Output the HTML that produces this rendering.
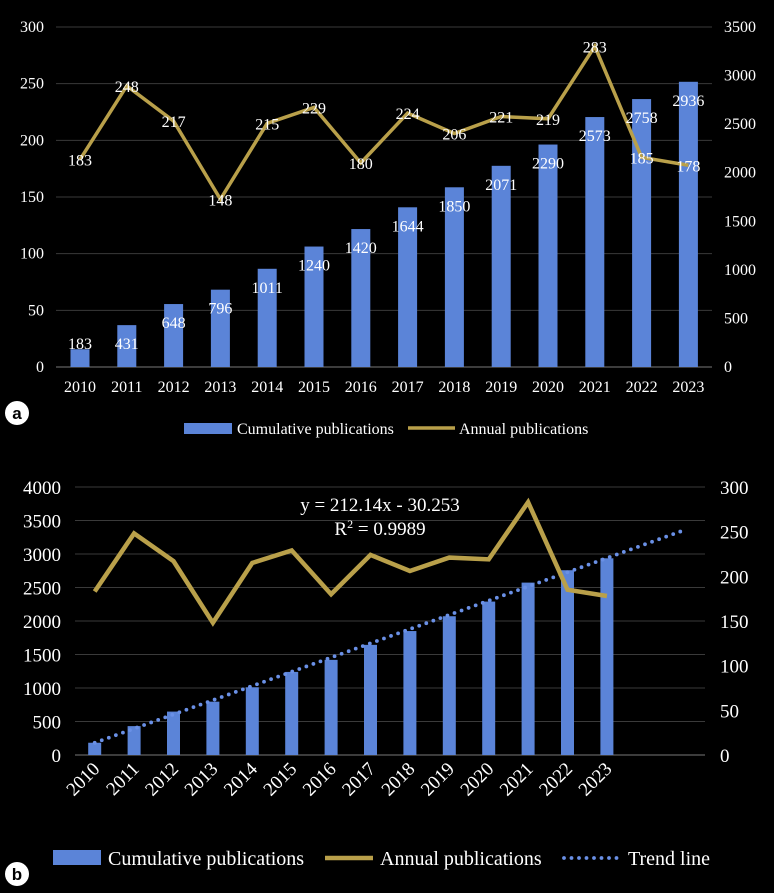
<!DOCTYPE html>
<html><head><meta charset="utf-8"><style>
html,body{margin:0;padding:0;background:#000;}
svg{display:block;font-family:"Liberation Serif",serif;}
</style></head><body>
<svg id="s" width="774" height="893" xmlns="http://www.w3.org/2000/svg"></svg>
<script>
const years=["2010","2011","2012","2013","2014","2015","2016","2017","2018","2019","2020","2021","2022","2023"];
const cumulative=[183,431,648,796,1011,1240,1420,1644,1850,2071,2290,2573,2758,2936];
const annual=[183,248,217,148,215,229,180,224,206,221,219,283,185,178];
const aLeftTicks=[0,50,100,150,200,250,300];
const aRightTicks=[0,500,1000,1500,2000,2500,3000,3500];
const bLeftTicks=[0,500,1000,1500,2000,2500,3000,3500,4000];
const bRightTicks=[0,50,100,150,200,250,300];
const trendSlope=212.14, trendIntercept=-30.253, trendCount=16;

const NS="http://www.w3.org/2000/svg";
const svg=document.getElementById('s');
function el(t,a,p){const e=document.createElementNS(NS,t);for(const k in a)e.setAttribute(k,a[k]);(p||svg).appendChild(e);return e;}
function txt(s,a,p){const e=el('text',a,p);e.textContent=s;return e;}
const BAR="#5b84d8", LINE="#b9a04a", GRID="#3a3a3a";

// ---------- Panel a ----------
const ga=el('g',{});
const aX0=56.6, aStep=46.8, aY0=367, aH=340;
const ax=i=>aX0+aStep*(i+0.5);
const ayL=v=>aY0-v/300*aH, ayR=v=>aY0-v/3500*aH;
const FA=16;
aLeftTicks.forEach(v=>{const g=el('line',{x1:56,x2:712,y1:ayL(v),y2:ayL(v),stroke:v===0?"#777":GRID,'stroke-width':1},ga);
 const t=txt(String(v),{x:44,y:ayL(v)+5,'text-anchor':'end',fill:'#fff','font-size':FA},ga);});
aRightTicks.forEach(v=>{const t=txt(String(v),{x:724,y:ayR(v)+5,fill:'#fff','font-size':FA},ga);});
cumulative.forEach((v,i)=>{const r=el('rect',{x:ax(i)-9.5,y:ayR(v),width:19,height:aY0-ayR(v),fill:BAR},ga);});
let pa=annual.map((v,i)=>ax(i)+","+ayL(v)).join(" ");
const la=el('polyline',{points:pa,fill:'none',stroke:LINE,'stroke-width':3.5,'stroke-linejoin':'miter'},ga);
cumulative.forEach((v,i)=>{const y=Math.min(ayR(v)+18,343);const t=txt(String(v),{x:ax(i),y:y+6,'text-anchor':'middle',fill:'#fff','font-size':FA},ga);});
annual.forEach((v,i)=>{const t=txt(String(v),{x:ax(i),y:ayL(v)+6,'text-anchor':'middle',fill:'#fff','font-size':FA},ga);});
years.forEach((y,i)=>{const t=txt(y,{x:ax(i),y:392,'text-anchor':'middle',fill:'#fff','font-size':FA},ga);});
const lg1=el('rect',{x:184,y:423,width:48,height:11,fill:BAR},ga);
const lt1=txt('Cumulative publications',{x:237,y:434,fill:'#fff','font-size':FA},ga);
const lg2=el('line',{x1:408,x2:455,y1:428,y2:428,stroke:LINE,'stroke-width':3.5},ga);
const lt2=txt('Annual publications',{x:459,y:434,fill:'#fff','font-size':FA},ga);
const ca=el('circle',{cx:17,cy:413,r:12,fill:'#fff'},ga);
const cat=txt('a',{x:17,y:419,'text-anchor':'middle','font-family':'Liberation Sans,sans-serif','font-weight':'bold','font-size':17,fill:'#000'},ga);

// ---------- Panel b ----------
const gb=el('g',{});
const bX0=75, bStep=39.4, bY0=755, bH=268;
const bx=i=>bX0+bStep*(i+0.5);
const byL=v=>bY0-v/4000*bH, byR=v=>bY0-v/300*bH;
bLeftTicks.forEach(v=>{const g=el('line',{x1:75,x2:705,y1:byL(v),y2:byL(v),stroke:v===0?"#777":GRID,'stroke-width':1},gb);
 const t=txt(String(v),{x:61,y:byL(v)+7,'text-anchor':'end',fill:'#fff','font-size':19},gb);});
bRightTicks.forEach(v=>{const t=txt(String(v),{x:720,y:byR(v)+7,fill:'#fff','font-size':19},gb);});
cumulative.forEach((v,i)=>{const r=el('rect',{x:bx(i)-6.5,y:byL(v),width:13,height:bY0-byL(v),fill:BAR},gb);});
const tv1=trendSlope*1+trendIntercept, tvN=trendSlope*trendCount+trendIntercept;
const tl=el('line',{x1:bx(0),y1:byL(tv1),x2:bx(trendCount-1),y2:byL(tvN),stroke:'#6a90e6','stroke-width':3.8,'stroke-dasharray':'0 7.5','stroke-linecap':'round'},gb);
const pb=annual.map((v,i)=>bx(i)+","+byR(v)).join(" ");
const lb=el('polyline',{points:pb,fill:'none',stroke:LINE,'stroke-width':4.5},gb);
const e1=txt('y = 212.14x - 30.253',{x:380,y:511,'text-anchor':'middle',fill:'#fff','font-size':19},gb);
const e2=el('text',{x:380,y:535,'text-anchor':'middle',fill:'#fff','font-size':19},gb);e2.innerHTML='R<tspan dy="-7" font-size="12">2</tspan><tspan dy="7"> = 0.9989</tspan>';
years.forEach((y,i)=>{const t=txt(y,{x:bx(i)+6,y:770,'text-anchor':'end',fill:'#fff','font-size':19,transform:`rotate(-45 ${bx(i)+6} 770)`},gb);});
const m1=el('rect',{x:53,y:850,width:48,height:15,fill:BAR},gb);
const m1t=txt('Cumulative publications',{x:108,y:865,fill:'#fff','font-size':20},gb);
const m2=el('line',{x1:325,x2:373,y1:858,y2:858,stroke:LINE,'stroke-width':4.5},gb);
const m2t=txt('Annual publications',{x:380,y:865,fill:'#fff','font-size':20},gb);
const m3=el('line',{x1:564,x2:620,y1:858,y2:858,stroke:'#6a90e6','stroke-width':3.8,'stroke-dasharray':'0 7.5','stroke-linecap':'round'},gb);
const m3t=txt('Trend line',{x:628,y:865,fill:'#fff','font-size':20},gb);
const cb=el('circle',{cx:17,cy:874,r:12,fill:'#fff'},gb);
const cbt=txt('b',{x:17,y:880,'text-anchor':'middle','font-family':'Liberation Sans,sans-serif','font-weight':'bold','font-size':17,fill:'#000'},gb);
</script>
</body></html>
